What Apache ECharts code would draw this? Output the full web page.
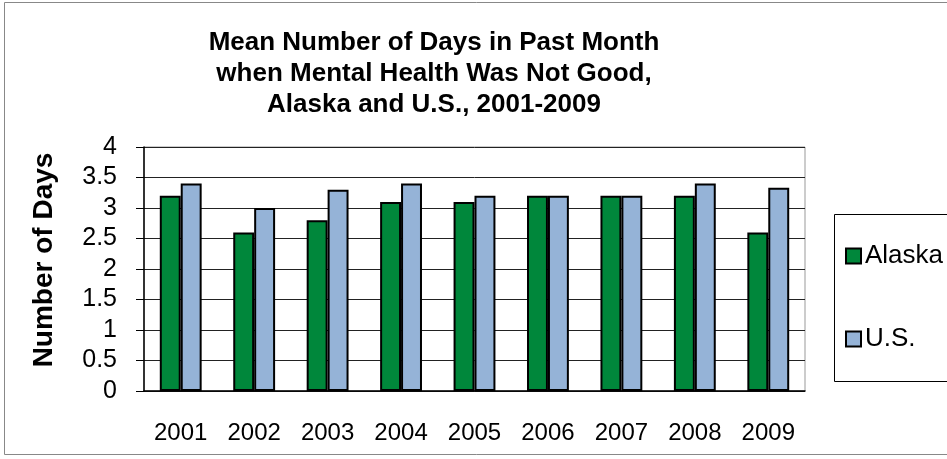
<!DOCTYPE html>
<html>
<head>
<meta charset="utf-8">
<script src="https://cdn.jsdelivr.net/npm/echarts@6/dist/echarts.min.js"></script>
<style>
  html, body { margin: 0; padding: 0; background: #fff; }
  #chart { width: 947px; height: 459px; }
</style>
</head>
<body>
<div id="chart"></div>
<script>
// data
const years = ['2001', '2002', '2003', '2004', '2005', '2006', '2007', '2008', '2009']
const alaska = [3.2, 2.6, 2.8, 3.1, 3.1, 3.2, 3.2, 3.2, 2.6]
const us = [3.4, 3.0, 3.3, 3.4, 3.2, 3.2, 3.2, 3.4, 3.33]
const titleLines = [
  'Mean Number of Days in Past Month',
  'when Mental Health Was Not Good,',
  'Alaska and U.S., 2001-2009'
]

const chart = echarts.init(document.getElementById('chart'))
const font = 'Liberation Sans, Arial, sans-serif'

const option = {
  backgroundColor: '#fff',
  animation: false,
  textStyle: { fontFamily: font },
  title: {
    text: titleLines.join('\n'),
    left: 429,
    top: 22,
    textAlign: 'center',
    textStyle: { fontFamily: font, fontSize: 26, fontWeight: 'bold', color: '#000', lineHeight: 31 }
  },
  graphic: [
    // outer chart frame
    { type: 'rect', shape: { x: 4.5, y: 2.5, width: 1000, height: 452 }, style: { fill: 'none', stroke: '#888', lineWidth: 1 }, silent: true },
    // legend box
    { type: 'rect', shape: { x: 834.5, y: 214.5, width: 200, height: 167 }, style: { fill: '#fff', stroke: '#000', lineWidth: 1 }, z: 0, silent: true }
  ],
  legend: {
    orient: 'vertical',
    left: 845,
    top: 243,
    itemWidth: 15,
    itemHeight: 15,
    itemGap: 57,
    icon: 'rect',
    padding: 0,
    textStyle: { fontFamily: font, fontSize: 26, color: '#000', padding: [0, 0, 0, -1] },
    data: ['Alaska', 'U.S.']
  },
  grid: {
    left: 144,
    top: 147,
    right: 142,
    bottom: 68,
    show: true,
    borderColor: '#999',
    borderWidth: 1
  },
  xAxis: {
    type: 'category',
    data: years,
    axisLine: { lineStyle: { color: '#000', width: 1.5 } },
    axisTick: { length: 6, lineStyle: { color: '#000' } },
    axisLabel: { color: '#000', fontSize: 24, margin: 30, fontFamily: font }
  },
  yAxis: {
    type: 'value',
    min: 0,
    max: 4,
    interval: 0.5,
    name: 'Number of Days',
    nameLocation: 'middle',
    nameRotate: 90,
    nameGap: 86,
    // shift the name a little upward, as in the reference
    nameTextStyle: { fontFamily: font, fontSize: 28, fontWeight: 'bold', color: '#000', padding: [0, 0, 0, 18] },
    axisLine: { show: true, lineStyle: { color: '#000', width: 1.5 } },
    axisTick: { show: true, length: 8, lineStyle: { color: '#000' } },
    axisLabel: { color: '#000', fontSize: 25, margin: 27, fontFamily: font },
    splitLine: { lineStyle: { color: '#222', width: 1 } }
  },
  series: [
    {
      name: 'Alaska',
      type: 'bar',
      data: alaska,
      barGap: '0%',
      barCategoryGap: '43%',
      itemStyle: { color: '#00873B', borderColor: '#000', borderWidth: 2 }
    },
    {
      name: 'U.S.',
      type: 'bar',
      data: us,
      itemStyle: { color: '#95B3D7', borderColor: '#000', borderWidth: 2 }
    }
  ]
}

chart.setOption(option)
</script>
</body>
</html>
